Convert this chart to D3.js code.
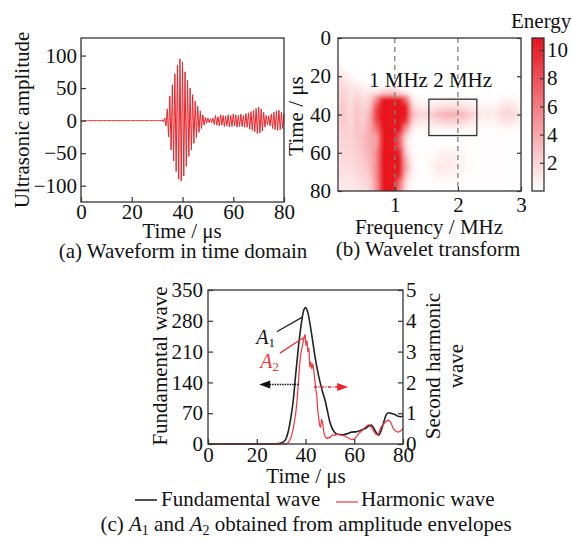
<!DOCTYPE html>
<html>
<head>
<meta charset="utf-8">
<script src="https://cdn.jsdelivr.net/npm/d3@7"></script>
<style>
  body { margin: 0; background: #fff; }
  svg { display: block; font-family: "Liberation Serif", "Times New Roman", serif; }
</style>
</head>
<body>
<svg id="chart" width="572" height="540"></svg>
<script>
// ---------------- (a) waveform in time domain ----------------
const waveStep = 0.5;            // μs between successive half-cycle peaks
const waveAmp = [
  0,0,0,0,0,0,0,0,0,0,0,0,0,0,0,0,          // 0 – 7.5 μs
  0,0,0,0,0,0,0,0,0,0,0,0,0,0,0,0,          // 8 – 15.5 μs
  0,0,0,0,0,0,0,0,0,0,0,0,0,0,0,0,          // 16 – 23.5 μs
  0,0,0,0,0,0,0,0,0,0,0,0,0,0,0,0,          // 24 – 31.5 μs
  1,-2,4,-8,18,-25,38,-45,55,-62,72,-78,85,-90,95,-93,      // 32 – 39.5
  90,-85,75,-70,62,-55,50,-45,40,-35,30,-26,22,-18,15,-12,  // 40 – 47.5
  9,-7,5,-4,4,-3,3,-3,4,-6,8,-7,6,-8,9,-7,                  // 48 – 55.5
  8,-9,7,-8,9,-10,8,-9,10,-8,9,-10,8,-9,10,-9,              // 56 – 63.5
  8,-10,11,-10,12,-13,14,-15,16,-17,19,-20,21,-19,18,-16,   // 64 – 71.5
  13,-10,8,-6,7,-8,10,-12,13,-14,15,-15,16,-14,13,-12,      // 72 – 79.5
  11                                                        // 80
];
const waveTimeTicks = [0, 20, 40, 60, 80];
const waveAmpTicks = [-100, -50, 0, 50, 100];

// ---------------- (b) wavelet transform ----------------
const wtFreq = [0.1,0.2,0.3,0.4,0.5,0.6,0.7,0.8,0.9,1.0,1.1,1.2,1.3,1.4,1.5,
                1.6,1.7,1.8,1.9,2.0,2.1,2.2,2.3,2.4,2.5,2.6,2.7,2.8,2.9,3.0];
const wtTime = [0,4,8,12,16,20,24,28,32,36,40,44,48,52,56,60,64,68,72,76,80];
const wtEnergy = [
  [0,0,0,0,0,0,0,0,0,0,0,0,0,0,0,0,0,0,0,0,0,0,0,0,0,0,0,0,0,0],
  [0,0,0,0,0,0,0,0,0,0,0,0,0,0,0,0,0,0,0,0,0,0,0,0,0,0,0,0,0,0],
  [0,0,0,0,0,0,0,0,0,0,0,0,0,0,0,0,0,0,0,0,0,0,0,0,0,0,0,0,0,0],
  [0,0,0,0,0,0,0,0,0,0,0,0,0,0,0,0,0,0,0,0,0,0,0,0,0,0,0,0,0,0],
  [0.7,0.2,0,0,0,0,0,0,0,0,0,0,0,0,0,0,0,0,0,0,0,0,0,0,0,0,0,0,0,0],
  [1.3,0.9,0.4,0.1,0,0,0,0,0,0,0,0,0,0,0,0,0,0,0,0,0,0,0,0,0,0,0,0,0,0],
  [1.6,1.5,1.0,0.7,0.4,0.1,0,0,0,0,0,0,0,0,0,0,0,0,0,0,0,0,0,0,0,0,0,0,0,0],
  [1.6,2.0,1.2,1.6,1.0,0.9,0.8,1.5,2.0,1.8,1.0,0.2,0,0,0,0,0,0,0,0,0,0,0,0,0,0,0,0,0,0],
  [1.8,2.3,1.3,2.1,1.5,1.7,5,14,14,14,13,6,0.5,0.3,0.3,0.4,0.4,0.4,0.4,0.4,0.4,0.4,0.3,0.2,0.2,0.2,0.4,0.5,0.4,0.1],
  [1.9,2.6,1.5,2.6,1.8,2.4,8,14,14,14,14,11,1.6,0.8,0.8,1.0,1.3,1.5,1.6,1.5,1.3,1.0,0.7,0.4,0.4,0.5,1.1,1.4,1.1,0.5],
  [1.9,2.7,1.6,2.9,2.1,3.2,9,14,14,14,14,12,3.0,1.9,1.8,2.4,3.2,3.6,3.8,3.5,3.0,2.3,1.5,1.0,1.0,1.1,1.7,2.0,1.6,1.0],
  [1.8,2.6,1.6,2.9,2.2,3.5,8,14,14,14,14,9,1.6,1.0,1.0,1.4,1.8,2.1,2.1,2.0,1.7,1.3,0.8,0.5,0.5,0.6,1.1,1.2,1.0,0.5],
  [1.6,2.4,1.8,2.7,2.6,3.8,6,14,14,14,12,4,0.4,0.3,0.3,0.4,0.4,0.4,0.4,0.4,0.4,0.3,0.3,0.1,0.1,0.1,0.2,0.2,0.2,0.1],
  [1.4,2.2,1.9,2.6,2.9,4.0,4,13,14,14,7,1.2,0.1,0.1,0.1,0.1,0.1,0.1,0.1,0.1,0.1,0.1,0.1,0.1,0.1,0.1,0.1,0.1,0.1,0.1],
  [1.3,2.1,1.9,2.4,2.9,3.8,4,13,14,14,7,1.0,0.1,0.1,0.1,0.1,0.1,0.1,0.1,0.1,0.1,0.1,0.1,0.1,0.1,0.1,0.1,0.1,0.1,0.1],
  [1.3,1.9,1.8,2.2,2.7,3.5,5,14,14,14,10,1.5,0.2,0.1,0.1,0.1,0.4,0.6,0.6,0.5,0.3,0.1,0.1,0.1,0.1,0.1,0.1,0.1,0.1,0.1],
  [1.1,1.8,1.6,2.1,2.4,3.2,5,14,14,14,12,3,0.4,0.1,0.1,0.4,0.8,0.9,0.9,0.6,0.4,0.1,0.1,0.1,0.1,0.1,0.1,0.1,0.1,0.1],
  [1.1,1.6,1.4,1.9,2.2,2.9,5,14,14,14,12,3.5,0.4,0.1,0.1,0.5,0.9,1.0,0.9,0.6,0.4,0.1,0.1,0.1,0.1,0.1,0.1,0.1,0.1,0.1],
  [1.0,1.4,1.3,1.6,1.9,2.4,5,14,14,14,10,2,0.3,0.1,0.1,0.3,0.6,0.6,0.6,0.4,0.2,0.1,0.1,0.1,0.1,0.1,0.1,0.1,0.1,0.1],
  [0.8,1.3,1.1,1.4,1.6,1.9,4.5,13,14,13,6,1.0,0.1,0.1,0.1,0.1,0.1,0.1,0.1,0.1,0.1,0.1,0.1,0.1,0.1,0.1,0.1,0.1,0.1,0.1],
  [0.8,1.1,1.0,1.3,1.4,1.8,4.5,13,14,13,5,0.8,0.1,0.1,0.1,0.1,0.1,0.1,0.1,0.1,0.1,0.1,0.1,0.1,0.1,0.1,0.1,0.1,0.1,0.1]
];
const freqTicks = [1, 2, 3];
const wtTimeTicks = [0, 20, 40, 60, 80];
const energyTicks = [2, 4, 6, 8, 10];
const energyMax = 10.85;
const markedFreqs = [1, 2];                 // dashed guides at 1 MHz and 2 MHz
const harmonicBox = { f0: 1.54, f1: 2.3, t0: 32, t1: 51 };

// ---------------- (c) amplitude envelopes ----------------
const envTimeA1 = [0,28,30,31,32,33,34,35,36,37,38,39,40,41,42,43,44,45,46,47,48,49,50,51,52,53,
                   55,57,59,61,63,65,66,67,68,69,70,71,72,73,74,75,76,77,78,79,80];
const envA1 = [0,0,2,5,12,30,60,100,160,215,262,298,310,298,268,232,195,165,140,118,100,75,50,35,26,22,
               21,23,27,28,32,37,41,43,36,26,20,30,48,65,71,70,68,66,63,62,64];
const envTimeA2 = [0,32,33,34,35,36,36.5,37,37.5,38,38.5,39,39.5,39.8,40.2,40.6,41,41.4,41.8,42.2,42.6,43,
                   43.4,43.8,44.2,44.6,45,45.4,45.8,46.2,46.6,47,47.5,48,48.5,49,49.5,50,51,52,53,54,55,56,
                   57,58,59,60,61,62,63,64,65,66,67,68,69,70,71,72,73,74,75,76,77,78,79,80];
const envA2 = [0,0,0.05,0.2,0.5,1.0,1.4,1.9,2.5,2.9,3.1,3.3,3.5,3.55,3.2,3.35,3.0,3.1,2.5,2.65,2.45,2.6,
               2.4,2.1,1.8,1.6,1.1,0.85,0.6,0.55,0.8,0.7,0.4,0.25,0.2,0.18,0.22,0.2,0.3,0.28,0.32,0.3,0.28,0.26,
               0.22,0.18,0.14,0.16,0.25,0.35,0.42,0.5,0.58,0.63,0.55,0.42,0.3,0.35,0.55,0.65,0.72,0.78,0.7,0.5,0.42,0.38,0.42,0.5];
const envTimeTicks = [0, 20, 40, 60, 80];
const fundTicks = [0, 70, 140, 210, 280, 350];
const harmTicks = [0, 1, 2, 3, 4, 5];

// ---------------- shared styling ----------------
const FONT = 21;
const SUB = 14;
const AXIS = "#333";
const RED = "#e8121c";
const svg = d3.select("#chart");
const defs = svg.append("defs");
const fmt = d3.format("d");

function styleAxis(g) {
  g.attr("font-size", FONT).attr("font-family", null);
  g.select(".domain").remove();
  g.selectAll(".tick line").attr("stroke", AXIS).attr("stroke-width", 1.2);
  g.selectAll(".tick text").attr("fill", "#111");
}
function frame(x0, x1, y0, y1) {
  svg.append("rect").attr("x", x0).attr("y", y0)
    .attr("width", x1 - x0).attr("height", y1 - y0)
    .attr("fill", "none").attr("stroke", AXIS).attr("stroke-width", 1.3);
}
function label(text, x, y, opts = {}) {
  const t = svg.append("text").attr("font-size", opts.size || FONT)
    .attr("text-anchor", opts.anchor || "middle").attr("fill", opts.fill || "#111");
  if (opts.rotate) t.attr("transform", `translate(${x},${y}) rotate(${opts.rotate})`);
  else t.attr("x", x).attr("y", y);
  t.text(text);
  return t;
}

// ================= panel (a) =================
const xA = d3.scaleLinear().domain([0, 80]).range([81, 284]);
const yA = d3.scaleLinear().domain([-125, 127]).range([202, 38]);

svg.append("path")
  .datum(waveAmp)
  .attr("fill", "none").attr("stroke", "#e8262c").attr("stroke-width", 1)
  .attr("d", d3.line().x((d, i) => xA(i * waveStep)).y(d => yA(d)));

svg.append("g").attr("transform", "translate(0,202)")
  .call(d3.axisBottom(xA).tickValues(waveTimeTicks).tickFormat(fmt).tickSizeInner(-5).tickSizeOuter(0).tickPadding(2))
  .call(styleAxis);
svg.append("g").attr("transform", "translate(81,0)")
  .call(d3.axisLeft(yA).tickValues(waveAmpTicks).tickFormat(fmt).tickSizeInner(-5).tickSizeOuter(0).tickPadding(4))
  .call(styleAxis);
frame(81, 284, 38, 202);
label("Time / μs", 182, 238);
label("Ultrasonic amplitude", 29, 120, { rotate: -90 });
label("(a) Waveform in time domain", 183, 258);

// ================= panel (b) =================
const xB = d3.scaleLinear().domain([0.1, 3]).range([338, 521]);
const yB = d3.scaleLinear().domain([0, 80]).range([38, 191]);
const color = d3.scaleLinear().domain([0, energyMax]).range(["#ffffff", RED]).clamp(true);

const cells = [];
wtTime.forEach((t, r) => wtFreq.forEach((f, c) => cells.push({ t, f, e: wtEnergy[r][c] })));
const dF = 0.05, dT = 2;
const gx0 = xB(wtFreq[0] - dF), gx1 = xB(wtFreq[wtFreq.length - 1] + dF);
const gy0 = yB(wtTime[0] - dT), gy1 = yB(wtTime[wtTime.length - 1] + dT);

defs.append("clipPath").attr("id", "wtClip")
  .append("rect").attr("x", 338).attr("y", 38).attr("width", 521 - 338).attr("height", 191 - 38);
const blur = defs.append("filter").attr("id", "wtSmooth")
  .attr("filterUnits", "userSpaceOnUse")
  .attr("x", gx0).attr("y", gy0).attr("width", gx1 - gx0).attr("height", gy1 - gy0);
blur.append("feGaussianBlur").attr("stdDeviation", 2.6).attr("result", "soft");
blur.append("feComponentTransfer").attr("in", "soft")
  .append("feFuncA").attr("type", "linear").attr("slope", 0).attr("intercept", 1);

svg.append("g").attr("clip-path", "url(#wtClip)")
  .append("g").attr("filter", "url(#wtSmooth)")
  .selectAll("rect").data(cells).join("rect")
  .attr("x", d => xB(d.f - dF) - 0.3)
  .attr("y", d => yB(d.t - dT) - 0.3)
  .attr("width", d => xB(d.f + dF) - xB(d.f - dF) + 0.6)
  .attr("height", d => yB(d.t + dT) - yB(d.t - dT) + 0.6)
  .attr("fill", d => color(d.e));

svg.append("g").selectAll("line").data(markedFreqs).join("line")
  .attr("x1", d => xB(d)).attr("x2", d => xB(d))
  .attr("y1", yB(0)).attr("y2", yB(80))
  .attr("stroke", "#808080").attr("stroke-width", 1.3).attr("stroke-dasharray", "5,4");

svg.append("rect")
  .attr("x", xB(harmonicBox.f0)).attr("y", yB(harmonicBox.t0))
  .attr("width", xB(harmonicBox.f1) - xB(harmonicBox.f0))
  .attr("height", yB(harmonicBox.t1) - yB(harmonicBox.t0))
  .attr("fill", "none").attr("stroke", AXIS).attr("stroke-width", 1.3);

svg.append("g").attr("transform", "translate(0,191)")
  .call(d3.axisBottom(xB).tickValues(freqTicks).tickFormat(fmt).tickSizeInner(-4).tickSizeOuter(0).tickPadding(6))
  .call(styleAxis);
svg.append("g").attr("transform", "translate(338,0)")
  .call(d3.axisLeft(yB).tickValues(wtTimeTicks).tickFormat(fmt).tickSizeInner(-4).tickSizeOuter(0).tickPadding(7))
  .call(styleAxis);
svg.append("g").attr("transform", "translate(521,0)")
  .call(d3.axisRight(yB).tickValues(wtTimeTicks).tickSizeInner(-4).tickSizeOuter(0).tickFormat(""))
  .call(styleAxis);
frame(338, 521, 38, 191);
label("1 MHz 2 MHz", 369, 87, { anchor: "start" });
label("Frequency / MHz", 429, 234);
label("Time / μs", 303, 116, { rotate: -90 });
label("(b) Wavelet transform", 428, 256);

// colour bar
const cY = d3.scaleLinear().domain([0, energyMax]).range([191, 38]);
const grad = defs.append("linearGradient").attr("id", "energyGrad")
  .attr("x1", 0).attr("y1", 1).attr("x2", 0).attr("y2", 0);
grad.append("stop").attr("offset", 0).attr("stop-color", color(0));
grad.append("stop").attr("offset", 1).attr("stop-color", color(energyMax));
svg.append("rect").attr("x", 532).attr("y", 38).attr("width", 12).attr("height", 153)
  .attr("fill", "url(#energyGrad)");
svg.append("g").attr("transform", "translate(544,0)")
  .call(d3.axisRight(cY).tickValues(energyTicks).tickFormat(fmt).tickSizeInner(-4).tickSizeOuter(0).tickPadding(3))
  .call(styleAxis);
frame(532, 544, 38, 191);
label("Energy", 511, 28, { anchor: "start" });

// ================= panel (c) =================
const xC = d3.scaleLinear().domain([0, 80]).range([208, 403]);
const yC1 = d3.scaleLinear().domain([0, 350]).range([444, 290]);
const yC2 = d3.scaleLinear().domain([0, 5]).range([444, 290]);

svg.append("path")
  .datum(d3.zip(envTimeA1, envA1))
  .attr("fill", "none").attr("stroke", "#222").attr("stroke-width", 1.6)
  .attr("stroke-linejoin", "round")
  .attr("d", d3.line().curve(d3.curveMonotoneX).x(d => xC(d[0])).y(d => yC1(d[1])));
svg.append("path")
  .datum(d3.zip(envTimeA2, envA2))
  .attr("fill", "none").attr("stroke", "#f0343c").attr("stroke-width", 1.2)
  .attr("stroke-linejoin", "round")
  .attr("d", d3.line().x(d => xC(d[0])).y(d => yC2(d[1])));

svg.append("g").attr("transform", "translate(0,444)")
  .call(d3.axisBottom(xC).tickValues(envTimeTicks).tickFormat(fmt).tickSizeInner(-5).tickSizeOuter(0).tickPadding(3))
  .call(styleAxis);
svg.append("g").attr("transform", "translate(208,0)")
  .call(d3.axisLeft(yC1).tickValues(fundTicks).tickFormat(fmt).tickSizeInner(-5).tickSizeOuter(0).tickPadding(5))
  .call(styleAxis);
svg.append("g").attr("transform", "translate(403,0)")
  .call(d3.axisRight(yC2).tickValues(harmTicks).tickFormat(fmt).tickSizeInner(-5).tickSizeOuter(0).tickPadding(3))
  .call(styleAxis);
frame(208, 403, 290, 444);

// A1 / A2 callouts
svg.append("line")
  .attr("x1", xC(28.2)).attr("y1", yC1(255)).attr("x2", xC(38.9)).attr("y2", yC1(289))
  .attr("stroke", "#222").attr("stroke-width", 1.3);
svg.append("line")
  .attr("x1", xC(29.5)).attr("y1", yC2(2.95)).attr("x2", xC(39.1)).attr("y2", yC2(3.45))
  .attr("stroke", "#f0343c").attr("stroke-width", 1.4);
function symbolLabel(name, sub, x, y, fill) {
  const t = svg.append("text").attr("x", x).attr("y", y).attr("font-size", 20).attr("fill", fill);
  t.append("tspan").attr("font-style", "italic").text(name);
  t.append("tspan").attr("font-size", 13).attr("dy", 3).text(sub);
}
symbolLabel("A", "1", xC(19.8), yC1(227), "#111");
symbolLabel("A", "2", xC(21.4), yC2(2.48), "#f0343c");

// axis-ownership arrows
function arrow(xFrom, xTo, y, fill, dash) {
  const dir = Math.sign(xTo - xFrom);
  svg.append("line").attr("x1", xFrom).attr("x2", xTo - dir * 9).attr("y1", y).attr("y2", y)
    .attr("stroke", fill).attr("stroke-width", 1.5).attr("stroke-dasharray", dash);
  svg.append("path")
    .attr("d", `M${xTo},${y} L${xTo - dir * 11},${y - 4} L${xTo - dir * 11},${y + 4} Z`)
    .attr("fill", fill);
}
arrow(xC(37.2), xC(21), yC1(135), "#111", "1.5,1");
arrow(xC(43.5), xC(57.5), yC2(1.85), "#f0242c", "3,1.5,1,1.5");

label("Fundamental wave", 167, 366, { rotate: -90 });
label("Second harmonic", 440, 366, { rotate: -90 });
label("wave", 463, 366, { rotate: -90 });
label("Time / μs", 306, 483);

// legend
svg.append("line").attr("x1", 135).attr("x2", 157).attr("y1", 500).attr("y2", 500)
  .attr("stroke", "#222").attr("stroke-width", 1.6);
label("Fundamental wave", 161, 506, { anchor: "start" });
svg.append("line").attr("x1", 336).attr("x2", 358).attr("y1", 502).attr("y2", 502)
  .attr("stroke", "#f0343c").attr("stroke-width", 1.2);
label("Harmonic wave", 361, 506, { anchor: "start" });

// caption (c)
const cap = svg.append("text").attr("x", 306).attr("y", 531)
  .attr("font-size", FONT).attr("text-anchor", "middle").attr("fill", "#111");
cap.append("tspan").text("(c) ");
cap.append("tspan").attr("font-style", "italic").text("A");
cap.append("tspan").attr("font-size", SUB).attr("dy", 4).text("1");
cap.append("tspan").attr("dy", -4).text(" and ");
cap.append("tspan").attr("font-style", "italic").text("A");
cap.append("tspan").attr("font-size", SUB).attr("dy", 4).text("2");
cap.append("tspan").attr("dy", -4).text(" obtained from amplitude envelopes");
</script>
</body>
</html>
